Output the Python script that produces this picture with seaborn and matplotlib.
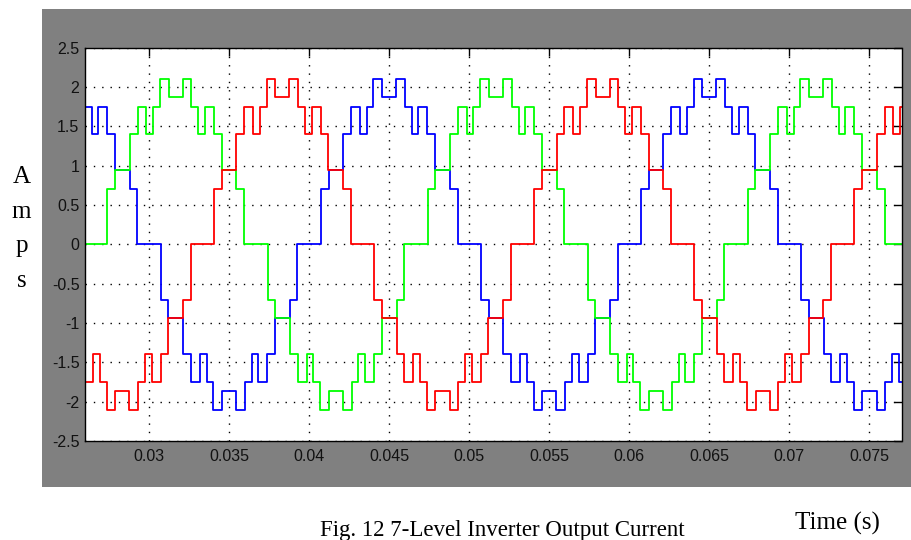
import numpy as np
import pandas as pd
import matplotlib
matplotlib.use("Agg")
import matplotlib.pyplot as plt
from matplotlib.patches import Rectangle
import seaborn as sns

# ---- data -------------------------------------------------------------
# plateau half-widths (ms) measured from a positive peak, and plateau levels (A)
edge_ms = [0.44, 0.98, 1.41, 1.83, 2.39, 2.87, 3.79, 4.27]
level_amps = [1.87, 2.10, 1.75, 1.40, 1.75, 1.40, 0.94, 0.71]
period_s = 0.02
phase_names = ["blue", "green", "red"]
peak_times = [0.0450, 0.03167, 0.03833]   # time of a positive peak for each phase
phase_colors = ["#0000ff", "#00ff00", "#ff0000"]

xticks = [0.03, 0.035, 0.04, 0.045, 0.05, 0.055, 0.06, 0.065, 0.07, 0.075]
xtick_labels = ["0.03", "0.035", "0.04", "0.045", "0.05", "0.055", "0.06", "0.065", "0.07", "0.075"]
yticks = [-2.5, -2, -1.5, -1, -0.5, 0, 0.5, 1, 1.5, 2, 2.5]
ytick_labels = ["-2.5", "-2", "-1.5", "-1", "-0.5", "0", "0.5", "1", "1.5", "2", "2.5"]
x_range = (0.026, 0.077)
y_range = (-2.5, 2.5)

# ---- build step series --------------------------------------------------
def half_cycle(center, sign):
    starts = [center - e / 1000 for e in reversed(edge_ms)] + [center + e / 1000 for e in edge_ms]
    vals = list(reversed(level_amps)) + level_amps[1:] + [0.0]
    return starts, [sign * v for v in vals]

rows = []
for name, pk in zip(phase_names, peak_times):
    ts, vs = [x_range[0] - 0.01], [0.0]
    k0 = int(np.floor((x_range[0] - pk) / period_s)) - 1
    for k in range(k0, k0 + 6):
        for off, sgn in ((0.0, 1), (period_s / 2, -1)):
            s, v = half_cycle(pk + k * period_s + off, sgn)
            ts += s
            vs += v
    order = np.argsort(ts, kind="stable")
    ts = list(np.array(ts)[order]); vs = list(np.array(vs)[order])
    ts.append(x_range[1] + 0.01); vs.append(vs[-1])
    for t, v in zip(ts, vs):
        rows.append({"t": t, "i": v, "phase": name})
df = pd.DataFrame(rows)

# ---- figure -------------------------------------------------------------
sns.set_style("white")
plt.rcParams["axes.unicode_minus"] = False
W, H = 911, 540
fig = plt.figure(figsize=(W / 100, H / 100), dpi=100, facecolor="white")
fig.patches.append(Rectangle((42 / W, 1 - 487 / H), (W - 42) / W, (487 - 9) / H,
                             transform=fig.transFigure, facecolor="#808080",
                             edgecolor="none", zorder=-5))
ax = fig.add_axes([85 / W, 1 - 441 / H, (901.5 - 85) / W, (441 - 47.7) / H])
ax.set_zorder(2)
ax.set_facecolor("white")

sns.lineplot(data=df, x="t", y="i", hue="phase", hue_order=phase_names,
             palette=dict(zip(phase_names, phase_colors)), estimator=None,
             sort=False, drawstyle="steps-post", linewidth=1.3, legend=False, ax=ax)

ax.set_xlim(*x_range)
ax.set_ylim(*y_range)
ax.set_xticks(xticks)
ax.set_xticklabels(xtick_labels)
ax.set_yticks(yticks)
ax.set_yticklabels(ytick_labels)
ax.set_xlabel("")
ax.set_ylabel("")
ax.grid(True, color="black", linestyle=(0, (1, 5)), linewidth=1.0)
ax.tick_params(direction="in", length=6, width=1, color="black",
               top=True, right=True, labelsize=11.5, labelcolor="#111111")
ax.tick_params(axis="x", pad=6)
ax.tick_params(axis="y", pad=4)
for lab in ax.get_xticklabels() + ax.get_yticklabels():
    lab.set_family(["Liberation Sans", "DejaVu Sans"])
for sp in ax.spines.values():
    sp.set_color("black")
    sp.set_linewidth(1.0)
    sp.set_visible(True)

serif = ["Liberation Serif", "DejaVu Serif"]
for ch, yb in zip("Amps", [183, 218, 252, 287]):
    fig.text(21.7 / W, 1 - yb / H, ch, ha="center", va="baseline",
             fontsize=18, family=serif, color="black")
fig.text(837 / W, 1 - 530 / H, "Time (s)", ha="center", va="baseline",
         fontsize=18, family=serif, color="black")
fig.text(502 / W, 1 - 536 / H, "Fig. 12 7-Level Inverter Output Current",
         ha="center", va="baseline", fontsize=16.5, family=serif, color="black")

fig.savefig("out.png", dpi=100)
